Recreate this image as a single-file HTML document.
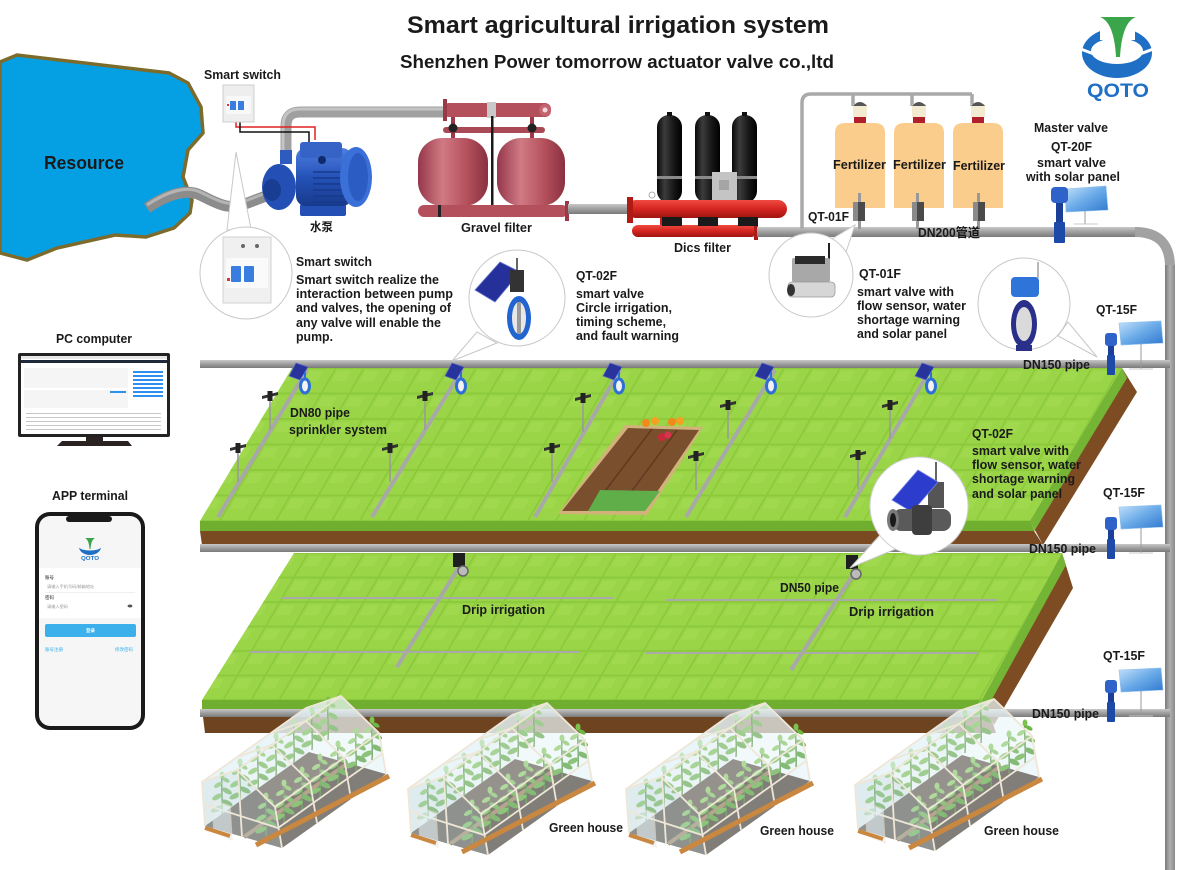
<!DOCTYPE html>
<html><head><meta charset="utf-8"><style>
html,body{margin:0;padding:0;background:#fff;}
svg{display:block;}
text{font-family:"Liberation Sans","Noto Sans CJK SC",sans-serif;font-weight:bold;fill:#1a1a1a;}
</style></head><body>
<svg width="1200" height="870" viewBox="0 0 1200 870" xmlns="http://www.w3.org/2000/svg">
<defs>
 <pattern id="tile1" patternUnits="userSpaceOnUse" width="28" height="25.5" patternTransform="translate(0,368) skewX(-30)">
  <rect width="28" height="25.5" fill="#8cc93b"/>
  <rect x="1" y="1" width="26" height="23.5" fill="#9ad548"/>
  <rect x="3" y="3" width="14" height="10" fill="#a3da52" opacity="0.6"/>
 </pattern>
 <pattern id="tile2" patternUnits="userSpaceOnUse" width="28" height="24.5" patternTransform="translate(0,553) skewX(-30)">
  <rect width="28" height="24.5" fill="#8cc93b"/>
  <rect x="1" y="1" width="26" height="22.5" fill="#9ad548"/>
  <rect x="3" y="3" width="14" height="10" fill="#a3da52" opacity="0.6"/>
 </pattern>
 <linearGradient id="pipeH" x1="0" y1="0" x2="0" y2="1">
  <stop offset="0" stop-color="#c8c8c8"/><stop offset="0.45" stop-color="#a2a2a2"/><stop offset="1" stop-color="#7a7a7a"/>
 </linearGradient>
 <linearGradient id="pipeV" x1="0" y1="0" x2="1" y2="0">
  <stop offset="0" stop-color="#7a7a7a"/><stop offset="0.5" stop-color="#b0b0b0"/><stop offset="1" stop-color="#8a8a8a"/>
 </linearGradient>
 <linearGradient id="redT" x1="0" y1="0" x2="1" y2="0">
  <stop offset="0" stop-color="#95374a"/><stop offset="0.35" stop-color="#d07a84"/><stop offset="0.7" stop-color="#b4505c"/><stop offset="1" stop-color="#8a3040"/>
 </linearGradient>
 <linearGradient id="blk" x1="0" y1="0" x2="1" y2="0">
  <stop offset="0" stop-color="#080808"/><stop offset="0.3" stop-color="#3c3c3c"/><stop offset="0.7" stop-color="#141414"/><stop offset="1" stop-color="#000"/>
 </linearGradient>
 <linearGradient id="redD" x1="0" y1="0" x2="0" y2="1">
  <stop offset="0" stop-color="#f04a40"/><stop offset="0.5" stop-color="#d42520"/><stop offset="1" stop-color="#a01510"/>
 </linearGradient>
 <linearGradient id="solar" x1="0" y1="0" x2="1" y2="1">
  <stop offset="0" stop-color="#c4e2fa"/><stop offset="0.5" stop-color="#6aaae8"/><stop offset="1" stop-color="#2f78cf"/>
 </linearGradient>
 <linearGradient id="pumpG" x1="0" y1="0" x2="0" y2="1">
  <stop offset="0" stop-color="#4f7fe0"/><stop offset="0.5" stop-color="#2552b8"/><stop offset="1" stop-color="#173a8c"/>
 </linearGradient>

 <g id="spr">
  <line x1="0" y1="0" x2="0" y2="32" stroke="#9a9a9a" stroke-width="1.6"/>
  <path d="M-8,-2 L8,-6 L8,-3 L-8,1 Z" fill="#333"/>
  <rect x="-2.5" y="-7" width="5" height="10" fill="#222"/>
 </g>
 <g id="tv">
  <polygon points="-9,12 -2,-1 10,3 2,16" fill="#28339c" stroke="#5b68cc" stroke-width="0.7"/>
  <line x1="7" y1="8" x2="7" y2="15" stroke="#2d6fd6" stroke-width="2"/>
  <ellipse cx="7" cy="22" rx="4.5" ry="7" fill="#f2f2f2" stroke="#2d6fd6" stroke-width="3"/>
 </g>
 <g id="q15">
  <polygon points="8,-10 50,-12 52,10 10,12" fill="url(#solar)" stroke="#8fc0ee" stroke-width="0.6"/>
  <line x1="30" y1="11" x2="30" y2="36" stroke="#9a9a9a" stroke-width="1"/>
  <line x1="18" y1="36" x2="42" y2="36" stroke="#c8c8c8" stroke-width="1"/>
  <rect x="-3" y="4" width="6" height="38" fill="#1b3f99"/>
  <rect x="-6" y="0" width="12" height="13" rx="3" fill="#2f63c9"/>
  <rect x="-4" y="22" width="8" height="20" rx="1" fill="#1d4aa8"/>
 </g>
 <g id="plant">
  <path d="M0,0 C1,-12 -1,-26 0,-40" stroke="#3f7d24" stroke-width="1.4" fill="none"/>
  <ellipse cx="-5" cy="-6" rx="6" ry="2.6" fill="#5ea83a" transform="rotate(-25 -5 -6)"/>
  <ellipse cx="5" cy="-12" rx="6" ry="2.6" fill="#4f9a30" transform="rotate(25 5 -12)"/>
  <ellipse cx="-5" cy="-18" rx="5.5" ry="2.5" fill="#6db844" transform="rotate(-30 -5 -18)"/>
  <ellipse cx="5" cy="-24" rx="5.5" ry="2.5" fill="#5ea83a" transform="rotate(30 5 -24)"/>
  <ellipse cx="-4" cy="-30" rx="4.5" ry="2.2" fill="#7cc24f" transform="rotate(-30 -4 -30)"/>
  <ellipse cx="4" cy="-35" rx="4" ry="2" fill="#6db844" transform="rotate(30 4 -35)"/>
  <ellipse cx="0" cy="-40" rx="2.5" ry="3.5" fill="#7cc24f"/>
 </g>
 <g id="gh">
  <polygon points="205,826 282,848 386,774 309,752" fill="#4b3d33"/>
  <line x1="244" y1="837" x2="348" y2="763" stroke="#9a7a55" stroke-width="4"/>
  <polygon points="309,752 306,708 341,696 379,733 386,774" fill="#e6f3f6" opacity="0.5"/>
  <polygon points="205,826 202,782 306,708 309,752" fill="#d6e7ec" opacity="0.55"/>
  <use href="#plant" transform="translate(222,815)"/>
  <use href="#plant" transform="translate(240,802)"/>
  <use href="#plant" transform="translate(258,789)"/>
  <use href="#plant" transform="translate(276,776)"/>
  <use href="#plant" transform="translate(294,763)"/>
  <use href="#plant" transform="translate(312,750)"/>
  <use href="#plant" transform="translate(328,740)"/>
  <use href="#plant" transform="translate(266,836)"/>
  <use href="#plant" transform="translate(284,823)"/>
  <use href="#plant" transform="translate(302,810)"/>
  <use href="#plant" transform="translate(320,797)"/>
  <use href="#plant" transform="translate(338,784)"/>
  <use href="#plant" transform="translate(356,771)"/>
  <use href="#plant" transform="translate(372,760)"/>
  <polygon points="282,848 275,807 379,733 386,774" fill="#e8f5f8" opacity="0.35"/>
  <polygon points="202,782 237,770 341,696 306,708" fill="#eaf6f9" opacity="0.65"/>
  <polygon points="237,770 275,807 379,733 341,696" fill="#f0f9fb" opacity="0.45"/>
  <polygon points="205,826 202,782 237,770 275,807 282,848" fill="#d3e5ea" opacity="0.5"/>
  <g stroke="#eee7d8" stroke-width="1.8" fill="none">
   <polyline points="205,826 202,782 237,770 275,807 282,848"/>
   <line x1="237" y1="770" x2="341" y2="696"/>
   <line x1="202" y1="782" x2="306" y2="708"/>
   <line x1="275" y1="807" x2="379" y2="733"/>
   <polyline points="306,708 341,696 379,733 386,774"/>
   <line x1="272" y1="745" x2="310" y2="782"/>
   <line x1="306" y1="721" x2="344" y2="758"/>
   <line x1="237" y1="757" x2="272" y2="745"/>
   <line x1="271" y1="733" x2="306" y2="721"/>
   <line x1="310" y1="782" x2="317" y2="823"/>
   <line x1="344" y1="758" x2="351" y2="799"/>
   <line x1="278" y1="828" x2="382" y2="754"/>
   <line x1="203" y1="804" x2="278" y2="828"/>
   <line x1="238" y1="770" x2="242" y2="837"/>
  </g>
  <polygon points="212,800 230,806 232,840 214,832" fill="#e4eff2" opacity="0.6" stroke="#eee7d8" stroke-width="1.4"/>
  <line x1="256" y1="845" x2="389" y2="776" stroke="#c9873f" stroke-width="5"/>
  <line x1="205" y1="828" x2="230" y2="836" stroke="#c9873f" stroke-width="4"/>
 </g>
</defs>

<rect width="1200" height="870" fill="#fff"/>

<!-- Lake -->
<path d="M0,62 L17,55 L169,73 L188,83 L201,107 L203,133 L188,150 L183,177 L192,200 L190,213 L174,228 L146,237 L115,235 L57,248 L27,260 L0,253 Z" fill="#05a0e4" stroke="#7d6b2b" stroke-width="3.5"/>

<!-- hose -->
<path d="M147,208 C165,196 185,188 200,195 S228,211 245,204 L266,196" stroke="#8c8c8c" stroke-width="11" fill="none"/>
<path d="M147,205 C165,193 185,185 200,192 S228,208 245,201 L266,193" stroke="#b4b4b4" stroke-width="3" fill="none"/>

<!-- pump outlet pipe -->
<path d="M286,162 V126 Q286,112 300,112 H446" stroke="#a0a0a0" stroke-width="11" fill="none"/>
<path d="M283,162 V126 Q283,109 300,109 H446" stroke="#c4c4c4" stroke-width="3" fill="none"/>

<!-- wires -->
<path d="M236,122 V127 H315 V140" stroke="#e02020" stroke-width="1.5" fill="none"/>
<path d="M240,122 V132 H309 V142" stroke="#111" stroke-width="1.5" fill="none"/>

<!-- top smart switch -->
<rect x="223" y="85" width="31" height="37" fill="#eeeeee" stroke="#cfcfcf" stroke-width="1"/>
<rect x="226" y="96" width="25" height="18" fill="#f8f8f8"/>
<rect x="230" y="101" width="6" height="9" fill="#3a7de0"/>
<rect x="238" y="101" width="6" height="9" fill="#3a7de0"/>
<rect x="227" y="104" width="2" height="2" fill="#d33"/>

<!-- pump -->
<rect x="300" y="204" width="46" height="12" rx="2" fill="#2450b5"/>
<rect x="296" y="148" width="56" height="58" rx="10" fill="url(#pumpG)"/>
<rect x="300" y="142" width="42" height="16" rx="3" fill="#3563c6"/>
<g stroke="#173a8c" stroke-width="1.6">
 <line x1="313" y1="172" x2="347" y2="172"/><line x1="313" y1="178" x2="347" y2="178"/>
 <line x1="313" y1="184" x2="347" y2="184"/><line x1="313" y1="190" x2="347" y2="190"/>
 <line x1="313" y1="196" x2="347" y2="196"/><line x1="313" y1="202" x2="347" y2="202"/>
</g>
<ellipse cx="356" cy="177" rx="16" ry="30" fill="#3a70d8"/>
<ellipse cx="358" cy="177" rx="10" ry="24" fill="#2a5cc4"/>
<circle cx="322" cy="160" r="4" fill="#0f2a6a"/>
<ellipse cx="279" cy="187" rx="17" ry="23" fill="#2450b5"/>
<ellipse cx="272" cy="190" rx="9" ry="11" fill="#1a3d94"/>
<rect x="280" y="150" width="12" height="14" fill="#2d5bc0"/>

<!-- gravel filter -->
<rect x="443" y="103" width="108" height="14" rx="6" fill="#b4505c"/>
<rect x="443" y="99" width="4" height="22" fill="#9a3a48"/>
<circle cx="545" cy="110" r="6" fill="#c46470"/><circle cx="545" cy="110" r="2.5" fill="#f3d6da"/>
<rect x="487" y="102" width="9" height="16" fill="#c9c9c9"/>
<rect x="443" y="127" width="102" height="6" rx="3" fill="#a84955"/>
<rect x="451" y="117" width="4" height="24" fill="#9a3a48"/>
<rect x="530" y="117" width="4" height="24" fill="#9a3a48"/>
<circle cx="453" cy="128" r="4.5" fill="#222"/><circle cx="532" cy="128" r="4.5" fill="#222"/>
<rect x="418" y="138" width="70" height="68" rx="24" fill="url(#redT)"/>
<rect x="497" y="138" width="68" height="68" rx="24" fill="url(#redT)"/>
<rect x="491" y="116" width="2.5" height="90" fill="#1a1a1a"/>
<rect x="418" y="205" width="150" height="12" rx="6" fill="#b4505c"/>
<rect x="565" y="201" width="4" height="20" fill="#9a3a48"/>
<rect x="438" y="205" width="3" height="12" fill="#222"/>
<!-- gravel to disc -->
<rect x="568" y="204" width="62" height="10" fill="url(#pipeH)"/>

<!-- disc filter -->
<rect x="657" y="115" width="25" height="88" rx="12" fill="url(#blk)"/>
<rect x="695" y="115" width="25" height="88" rx="12" fill="url(#blk)"/>
<rect x="732" y="115" width="25" height="88" rx="12" fill="url(#blk)"/>
<rect x="657" y="176" width="25" height="3" fill="#8a8a8a"/>
<rect x="695" y="176" width="25" height="3" fill="#8a8a8a"/>
<rect x="732" y="176" width="25" height="3" fill="#8a8a8a"/>
<rect x="667" y="112" width="5" height="4" fill="#111"/><rect x="705" y="112" width="5" height="4" fill="#111"/><rect x="742" y="112" width="5" height="4" fill="#111"/>
<rect x="712" y="172" width="25" height="30" fill="#c4c4c4"/><rect x="719" y="180" width="10" height="10" fill="#a5a5a5"/>
<rect x="660" y="210" width="6" height="20" fill="#c22"/><rect x="700" y="210" width="6" height="20" fill="#c22"/><rect x="740" y="210" width="6" height="20" fill="#c22"/>
<rect x="627" y="200" width="160" height="18" rx="9" fill="url(#redD)"/>
<rect x="627" y="197" width="6" height="26" fill="#b01a15"/>
<circle cx="652" cy="195" r="3" fill="#fff" stroke="#999" stroke-width="0.8"/>
<rect x="632" y="225" width="125" height="12" rx="6" fill="url(#redD)"/>
<rect x="754" y="223" width="4" height="17" fill="#b01a15"/>
<rect x="662" y="217" width="20" height="9" fill="#1a1a1a"/><rect x="698" y="217" width="20" height="9" fill="#1a1a1a"/><rect x="738" y="217" width="20" height="9" fill="#1a1a1a"/>

<!-- DN200 pipe and main vertical -->
<rect x="757" y="227" width="380" height="10" fill="url(#pipeH)"/>
<path d="M1135,232 Q1170,232 1170,267" stroke="#a2a2a2" stroke-width="10" fill="none"/>
<rect x="1165" y="265" width="10" height="605" fill="url(#pipeV)"/>

<!-- fertilizer bracket -->
<path d="M802,229 V103 Q802,94 811,94 H972 M853,94 V106 M912,94 V106 M972,94 V106" stroke="#a9a9a9" stroke-width="3.5" fill="none"/>
<!-- tanks -->
<path d="M835,208 V133 Q835,123 845,123 H875 Q885,123 885,133 V208 Z" fill="#fbcd8c"/>
<path d="M894,208 V133 Q894,123 904,123 H934 Q944,123 944,133 V208 Z" fill="#fbcd8c"/>
<path d="M953,208 V133 Q953,123 963,123 H993 Q1003,123 1003,133 V208 Z" fill="#fbcd8c"/>
<g>
 <rect x="853" y="104" width="14" height="14" rx="2" fill="#f3ead2"/><path d="M853,106 Q860,98 867,106 Z" fill="#555"/><rect x="854" y="117" width="12" height="6" fill="#b0202a"/>
 <rect x="912" y="104" width="14" height="14" rx="2" fill="#f3ead2"/><path d="M912,106 Q919,98 926,106 Z" fill="#555"/><rect x="913" y="117" width="12" height="6" fill="#b0202a"/>
 <rect x="971" y="104" width="14" height="14" rx="2" fill="#f3ead2"/><path d="M971,106 Q978,98 985,106 Z" fill="#555"/><rect x="972" y="117" width="12" height="6" fill="#b0202a"/>
</g>
<g>
 <rect x="858" y="193" width="3" height="36" fill="#999"/><rect x="853" y="202" width="12" height="19" fill="#4a4a4a"/><rect x="853" y="202" width="5" height="19" fill="#8a8a8a"/>
 <rect x="916" y="193" width="3" height="36" fill="#999"/><rect x="912" y="202" width="12" height="19" fill="#4a4a4a"/><rect x="912" y="202" width="5" height="19" fill="#8a8a8a"/>
 <rect x="977" y="193" width="3" height="36" fill="#999"/><rect x="973" y="202" width="12" height="19" fill="#4a4a4a"/><rect x="973" y="202" width="5" height="19" fill="#8a8a8a"/>
</g>

<!-- master valve -->
<polygon points="1065,189 1106,186 1108,210 1066,212" fill="url(#solar)" stroke="#8fc0ee" stroke-width="0.6"/>
<line x1="1085" y1="211" x2="1085" y2="224" stroke="#999" stroke-width="1"/>
<line x1="1074" y1="224" x2="1098" y2="224" stroke="#c8c8c8" stroke-width="1"/>
<rect x="1056" y="200" width="7" height="43" fill="#1b3f99"/>
<rect x="1051" y="187" width="17" height="16" rx="4" fill="#2f63c9"/>
<rect x="1054" y="222" width="11" height="21" rx="1" fill="#1d4aa8"/>

<!-- logo -->
<path fill-rule="evenodd" d="M1082,53 A35,25 0 1 0 1152,53 A35,25 0 1 0 1082,53 Z M1091,51 A26,13 0 1 0 1143,51 A26,13 0 1 0 1091,51 Z" fill="#1f6fc5"/>
<rect x="1100" y="24" width="35" height="16" fill="#fff"/>
<line x1="1078" y1="48" x2="1094" y2="54" stroke="#fff" stroke-width="3"/>
<line x1="1156" y1="48" x2="1140" y2="54" stroke="#fff" stroke-width="3"/>
<path d="M1100,17 H1136 Q1122,22 1120,57 H1116 Q1114,22 1100,17 Z" fill="#3aa54a"/>

<!-- FIELD 1 -->
<polygon points="1122,368 1137,392 1043,545 1030,521" fill="#7d4c22"/>
<polygon points="1122,368 1127,378 1035,530 1030,521" fill="#74b535"/>
<polygon points="200,531 1034,531 1043,545 202,545" fill="#7a4a22"/>
<polygon points="200,521 1030,521 1035,531 200,531" fill="#6fae2f"/>
<polygon points="292,368 1122,368 1030,521 200,521" fill="url(#tile1)"/>
<!-- flower bed -->
<polygon points="625,425 703,427 647,515 558,514" fill="#d2b27a"/>
<polygon points="628,428 699,430 644,511 562,511" fill="#7a4f2e"/>
<g stroke="#5e3a1f" stroke-width="1.5">
 <line x1="652" y1="429" x2="590" y2="511"/><line x1="677" y1="430" x2="617" y2="511"/>
</g>
<polygon points="600,490 660,491 645,511 588,511" fill="#5fae4a"/>
<circle cx="646" cy="423" r="4" fill="#f08a1a"/><circle cx="655" cy="421" r="4" fill="#f5a020"/><circle cx="672" cy="422" r="4" fill="#f08a1a"/><circle cx="680" cy="421" r="4" fill="#f5a020"/>
<circle cx="662" cy="437" r="4" fill="#c8283a"/><circle cx="668" cy="435" r="3.5" fill="#d63550"/>
<!-- sprinkler pipes -->
<g stroke="#a8a8a8" stroke-width="4">
 <line x1="307" y1="370" x2="218" y2="517"/>
 <line x1="462" y1="370" x2="372" y2="517"/>
 <line x1="620" y1="370" x2="535" y2="517"/>
 <line x1="775" y1="370" x2="686" y2="517"/>
 <line x1="930" y1="370" x2="845" y2="517"/>
</g>
<use href="#spr" transform="translate(270,398)"/>
<use href="#spr" transform="translate(238,450)"/>
<use href="#spr" transform="translate(425,398)"/>
<use href="#spr" transform="translate(390,450)"/>
<use href="#spr" transform="translate(583,400)"/>
<use href="#spr" transform="translate(552,450)"/>
<use href="#spr" transform="translate(728,407)"/>
<use href="#spr" transform="translate(696,458)"/>
<use href="#spr" transform="translate(890,407)"/>
<use href="#spr" transform="translate(858,457)"/>

<!-- FIELD 2 -->
<polygon points="1062,553 1073,588 994,725 982,700" fill="#7d4c22"/>
<polygon points="1062,553 1066,565 986,710 982,700" fill="#74b535"/>
<polygon points="202,709 988,709 996,733 205,733" fill="#6e4420"/>
<polygon points="202,700 982,700 987,709 202,709" fill="#6fae2f"/>
<polygon points="294,553 1062,553 982,700 202,700" fill="url(#tile2)"/>
<g stroke="#aaaaaa" stroke-width="2">
 <line x1="281" y1="598" x2="613" y2="598"/><line x1="249" y1="652" x2="580" y2="652"/>
 <line x1="666" y1="600" x2="997" y2="600"/><line x1="646" y1="653" x2="977" y2="653"/>
</g>
<g stroke="#a8a8a8" stroke-width="4">
 <line x1="462" y1="562" x2="397" y2="667"/>
 <line x1="855" y1="572" x2="791" y2="670"/>
</g>
<rect x="453" y="553" width="12" height="14" fill="#1f1f1f"/><circle cx="463" cy="571" r="5" fill="#bbb" stroke="#666" stroke-width="1.5"/>
<rect x="846" y="555" width="12" height="14" fill="#1f1f1f"/><circle cx="856" cy="574" r="5" fill="#bbb" stroke="#666" stroke-width="1.5"/>

<!-- DN150 pipes -->
<rect x="200" y="360" width="970" height="8" fill="url(#pipeH)"/>
<rect x="200" y="544" width="970" height="8" fill="url(#pipeH)"/>
<rect x="200" y="709" width="970" height="8" fill="url(#pipeH)"/>

<!-- top pipe valves -->
<use href="#tv" transform="translate(298,364)"/>
<use href="#tv" transform="translate(454,364)"/>
<use href="#tv" transform="translate(612,364)"/>
<use href="#tv" transform="translate(764,364)"/>
<use href="#tv" transform="translate(924,364)"/>

<!-- QT-15F units -->
<use href="#q15" transform="translate(1111,333)"/>
<use href="#q15" transform="translate(1111,517)"/>
<use href="#q15" transform="translate(1111,680)"/>

<!-- callout: smart switch -->
<polygon points="236,152 227,230 251,229" fill="#fff" stroke="#c8c8c8" stroke-width="1"/>
<circle cx="246" cy="273" r="46" fill="#fff" stroke="#c8c8c8" stroke-width="1"/>
<rect x="223" y="237" width="48" height="66" fill="#f0f0f0" stroke="#d2d2d2" stroke-width="1"/>
<rect x="226" y="258" width="42" height="30" fill="#fafafa"/>
<rect x="231" y="266" width="10" height="16" rx="1" fill="#3a7de0"/>
<rect x="244" y="266" width="10" height="16" rx="1" fill="#3a7de0"/>
<rect x="227" y="278" width="3" height="3" fill="#d33"/>
<circle cx="243" cy="246" r="2" fill="#666"/><circle cx="257" cy="246" r="2" fill="#666"/>

<!-- callout: QT-02F top -->
<polygon points="452,361 477,332 497,343" fill="#fff" stroke="#c8c8c8" stroke-width="1"/>
<circle cx="517" cy="298" r="48" fill="#fff" stroke="#c8c8c8" stroke-width="1"/>
<polygon points="475,290 500,262 520,272 495,302" fill="#25309a" stroke="#6a76d0" stroke-width="0.8"/>
<line x1="517" y1="258" x2="517" y2="272" stroke="#333" stroke-width="1.5"/>
<rect x="510" y="270" width="14" height="22" fill="#333"/>
<ellipse cx="519" cy="318" rx="12" ry="22" fill="#2264d0"/>
<ellipse cx="519" cy="318" rx="7" ry="16" fill="#e8e8e8"/>
<rect x="517" y="302" width="4" height="32" fill="#9a9a9a"/>

<!-- callout: QT-01F -->
<polygon points="855,225 830,240 846,252" fill="#fff" stroke="#c8c8c8" stroke-width="1"/>
<circle cx="811" cy="275" r="42" fill="#fff" stroke="#c8c8c8" stroke-width="1"/>
<line x1="829" y1="243" x2="829" y2="262" stroke="#222" stroke-width="2"/>
<rect x="792" y="258" width="38" height="24" rx="2" fill="#a8a8a8"/>
<rect x="795" y="256" width="30" height="8" fill="#2a2a2a"/>
<rect x="788" y="282" width="47" height="15" rx="4" fill="#d6d6d6" stroke="#999" stroke-width="0.8"/>
<ellipse cx="791" cy="290" rx="4" ry="6" fill="#333"/>

<!-- callout: QT-15F -->
<polygon points="1097,357 1058,336 1068,322" fill="#fff" stroke="#c8c8c8" stroke-width="1"/>
<circle cx="1024" cy="304" r="46" fill="#fff" stroke="#c8c8c8" stroke-width="1"/>
<line x1="1038" y1="262" x2="1038" y2="278" stroke="#888" stroke-width="1.2"/>
<rect x="1011" y="277" width="28" height="20" rx="4" fill="#2f74d9"/>
<ellipse cx="1024" cy="324" rx="13" ry="24" fill="#2a2f8a"/>
<ellipse cx="1024" cy="324" rx="8" ry="17" fill="#dadada"/>
<rect x="1016" y="345" width="16" height="6" fill="#2a2f8a"/>

<!-- callout: QT-02F lower -->
<polygon points="850,568 880,535 898,548" fill="#fff" stroke="#c8c8c8" stroke-width="1"/>
<circle cx="919" cy="506" r="49" fill="#fff" stroke="#d0d0d0" stroke-width="1"/>
<line x1="936" y1="462" x2="936" y2="485" stroke="#333" stroke-width="1.5"/>
<rect x="928" y="482" width="16" height="26" fill="#555"/>
<polygon points="892,500 918,470 938,482 912,512" fill="#2c3ccc" stroke="#7282e6" stroke-width="0.8"/>
<rect x="893" y="509" width="58" height="22" rx="8" fill="#5a5a5a"/>
<rect x="912" y="505" width="20" height="30" rx="4" fill="#3e3e3e"/>
<ellipse cx="893" cy="520" rx="6" ry="11" fill="#7a7a7a"/>
<ellipse cx="893" cy="520" rx="3" ry="7" fill="#1a1a1a"/>

<!-- greenhouses -->
<use href="#gh"/>
<use href="#gh" transform="translate(206,7)"/>
<use href="#gh" transform="translate(424,7)"/>
<use href="#gh" transform="translate(653,3)"/>

<!-- PC -->
<rect x="18" y="353" width="152" height="84" rx="2" fill="#222"/>
<rect x="21" y="356" width="146" height="78" fill="#fff"/>
<rect x="21" y="356" width="146" height="3" fill="#e6e6e6"/>
<rect x="21" y="360" width="146" height="3" fill="#1e2a3a"/>
<rect x="24" y="368" width="104" height="20" fill="#f5f5f5"/>
<rect x="24" y="390" width="104" height="18" fill="#f5f5f5"/>
<g fill="#2d8ff0"><rect x="133" y="371" width="30" height="2"/><rect x="133" y="375" width="30" height="2"/><rect x="133" y="379" width="30" height="2"/><rect x="133" y="383" width="30" height="2"/><rect x="133" y="387" width="30" height="2"/><rect x="133" y="391" width="30" height="2"/><rect x="133" y="395" width="30" height="2"/><rect x="110" y="391" width="16" height="2"/></g>
<g fill="#c8c8c8"><rect x="26" y="413" width="135" height="1"/><rect x="26" y="417" width="135" height="1"/><rect x="26" y="421" width="135" height="1"/><rect x="26" y="425" width="135" height="1"/><rect x="26" y="429" width="135" height="1"/></g>
<rect x="86" y="437" width="17" height="5" fill="#2a2322"/>
<path d="M57,446 L132,446 L128,441 L62,441 Z" fill="#2a2322"/>

<!-- Phone -->
<rect x="35" y="512" width="110" height="218" rx="15" fill="#1a1a1a"/>
<rect x="39" y="516" width="102" height="210" rx="11" fill="#f6f6f6"/>
<rect x="66" y="516" width="46" height="6" rx="3" fill="#1a1a1a"/>
<path d="M79,547 A11,8 0 0 0 101,547 A11,3.5 0 0 1 79,547 Z" fill="#1f6fc5"/>
<path d="M85,538 H95 Q91,540 90.5,549 H89.5 Q89,540 85,538 Z" fill="#3aa54a"/>
<text x="81" y="560" font-size="5" style="fill:#1f6fc5" textLength="18" lengthAdjust="spacingAndGlyphs">QOTO</text>
<rect x="39" y="568" width="102" height="50" fill="#fff"/>
<text x="45" y="579" font-size="4.5" style="font-weight:normal">账号</text>
<text x="47" y="588" font-size="4.2" style="font-weight:normal;fill:#999">请输入手机号码/邮箱地址</text>
<rect x="45" y="592" width="90" height="0.6" fill="#e5e5e5"/>
<text x="45" y="599" font-size="4.5" style="font-weight:normal">密码</text>
<text x="47" y="608" font-size="4.2" style="font-weight:normal;fill:#999">请输入密码</text>
<ellipse cx="130" cy="606" rx="2.5" ry="1.5" fill="#555"/>
<rect x="45" y="624" width="91" height="13" rx="2" fill="#3cb0ea"/>
<text x="86" y="632" font-size="4.5" style="fill:#fff">登录</text>
<text x="45" y="651" font-size="4.5" style="font-weight:normal;fill:#3cb0ea">账号注册</text>
<text x="115" y="651" font-size="4.5" style="font-weight:normal;fill:#3cb0ea">修改密码</text>

<!-- TEXTS -->
<text x="407" y="33" font-size="24" textLength="422" lengthAdjust="spacingAndGlyphs">Smart agricultural irrigation system</text>
<text x="400" y="68" font-size="18" textLength="434" lengthAdjust="spacingAndGlyphs">Shenzhen Power tomorrow actuator valve co.,ltd</text>
<text x="1087" y="97" font-size="19" style="fill:#1f6fc5" textLength="62" lengthAdjust="spacingAndGlyphs">QOTO</text>
<text x="204" y="79" font-size="12.5" textLength="77" lengthAdjust="spacingAndGlyphs">Smart switch</text>
<text x="44" y="169" font-size="18" textLength="80" lengthAdjust="spacingAndGlyphs">Resource</text>
<text x="310" y="231" font-size="12" textLength="23" lengthAdjust="spacingAndGlyphs">水泵</text>
<text x="461" y="232" font-size="12.5" textLength="71" lengthAdjust="spacingAndGlyphs">Gravel filter</text>
<text x="674" y="252" font-size="12.5" textLength="57" lengthAdjust="spacingAndGlyphs">Dics filter</text>
<text x="808" y="221" font-size="12.5" textLength="41" lengthAdjust="spacingAndGlyphs">QT-01F</text>
<text x="833" y="169" font-size="12.5" textLength="53" lengthAdjust="spacingAndGlyphs">Fertilizer</text>
<text x="893" y="169" font-size="12.5" textLength="53" lengthAdjust="spacingAndGlyphs">Fertilizer</text>
<text x="953" y="170" font-size="12.5" textLength="52" lengthAdjust="spacingAndGlyphs">Fertilizer</text>
<text x="918" y="237" font-size="12.5" textLength="62" lengthAdjust="spacingAndGlyphs">DN200管道</text>
<text x="1034" y="132" font-size="12.5" textLength="74" lengthAdjust="spacingAndGlyphs">Master valve</text>
<text x="1051" y="151" font-size="12.5" textLength="41" lengthAdjust="spacingAndGlyphs">QT-20F</text>
<text x="1037" y="167" font-size="12.5" textLength="69" lengthAdjust="spacingAndGlyphs">smart valve</text>
<text x="1026" y="181" font-size="12.5" textLength="94" lengthAdjust="spacingAndGlyphs">with solar panel</text>

<text x="859" y="278" font-size="12.5" textLength="42" lengthAdjust="spacingAndGlyphs">QT-01F</text>
<text x="857" y="296" font-size="12.5" textLength="97" lengthAdjust="spacingAndGlyphs">smart valve with</text>
<text x="857" y="310" font-size="12.5" textLength="109" lengthAdjust="spacingAndGlyphs">flow sensor, water</text>
<text x="857" y="324" font-size="12.5" textLength="103" lengthAdjust="spacingAndGlyphs">shortage warning</text>
<text x="857" y="338" font-size="12.5" textLength="90" lengthAdjust="spacingAndGlyphs">and solar panel</text>

<text x="1096" y="314" font-size="12.5" textLength="41" lengthAdjust="spacingAndGlyphs">QT-15F</text>
<text x="1023" y="369" font-size="12.5" textLength="67" lengthAdjust="spacingAndGlyphs">DN150 pipe</text>

<text x="576" y="280" font-size="12.5" textLength="41" lengthAdjust="spacingAndGlyphs">QT-02F</text>
<text x="576" y="298" font-size="12.5" textLength="68" lengthAdjust="spacingAndGlyphs">smart valve</text>
<text x="576" y="312" font-size="12.5" textLength="96" lengthAdjust="spacingAndGlyphs">Circle irrigation,</text>
<text x="576" y="326" font-size="12.5" textLength="90" lengthAdjust="spacingAndGlyphs">timing scheme,</text>
<text x="576" y="340" font-size="12.5" textLength="103" lengthAdjust="spacingAndGlyphs">and fault warning</text>

<text x="296" y="266" font-size="12.5" textLength="76" lengthAdjust="spacingAndGlyphs">Smart switch</text>
<text x="296" y="284" font-size="12.5" textLength="143" lengthAdjust="spacingAndGlyphs">Smart switch realize the</text>
<text x="296" y="298" font-size="12.5" textLength="157" lengthAdjust="spacingAndGlyphs">interaction between pump</text>
<text x="296" y="312" font-size="12.5" textLength="155" lengthAdjust="spacingAndGlyphs">and valves, the opening of</text>
<text x="296" y="327" font-size="12.5" textLength="145" lengthAdjust="spacingAndGlyphs">any valve will enable the</text>
<text x="296" y="341" font-size="12.5" textLength="37" lengthAdjust="spacingAndGlyphs">pump.</text>

<text x="56" y="343" font-size="12.5" textLength="76" lengthAdjust="spacingAndGlyphs">PC computer</text>
<text x="52" y="500" font-size="12.5" textLength="76" lengthAdjust="spacingAndGlyphs">APP terminal</text>

<text x="290" y="417" font-size="12.5" textLength="60" lengthAdjust="spacingAndGlyphs">DN80 pipe</text>
<text x="289" y="434" font-size="12.5" textLength="98" lengthAdjust="spacingAndGlyphs">sprinkler system</text>

<text x="972" y="438" font-size="12.5" textLength="41" lengthAdjust="spacingAndGlyphs">QT-02F</text>
<text x="972" y="455" font-size="12.5" textLength="97" lengthAdjust="spacingAndGlyphs">smart valve with</text>
<text x="972" y="469" font-size="12.5" textLength="109" lengthAdjust="spacingAndGlyphs">flow sensor, water</text>
<text x="972" y="483" font-size="12.5" textLength="103" lengthAdjust="spacingAndGlyphs">shortage warning</text>
<text x="972" y="498" font-size="12.5" textLength="90" lengthAdjust="spacingAndGlyphs">and solar panel</text>

<text x="1103" y="497" font-size="12.5" textLength="42" lengthAdjust="spacingAndGlyphs">QT-15F</text>
<text x="1029" y="553" font-size="12.5" textLength="67" lengthAdjust="spacingAndGlyphs">DN150 pipe</text>
<text x="780" y="592" font-size="12.5" textLength="59" lengthAdjust="spacingAndGlyphs">DN50 pipe</text>
<text x="462" y="614" font-size="12.5" textLength="83" lengthAdjust="spacingAndGlyphs">Drip irrigation</text>
<text x="849" y="616" font-size="12.5" textLength="85" lengthAdjust="spacingAndGlyphs">Drip irrigation</text>
<text x="1103" y="660" font-size="12.5" textLength="42" lengthAdjust="spacingAndGlyphs">QT-15F</text>
<text x="1032" y="718" font-size="12.5" textLength="67" lengthAdjust="spacingAndGlyphs">DN150 pipe</text>

<text x="549" y="832" font-size="12.5" textLength="74" lengthAdjust="spacingAndGlyphs">Green house</text>
<text x="760" y="835" font-size="12.5" textLength="74" lengthAdjust="spacingAndGlyphs">Green house</text>
<text x="984" y="835" font-size="12.5" textLength="75" lengthAdjust="spacingAndGlyphs">Green house</text>
</svg>
</body></html>
